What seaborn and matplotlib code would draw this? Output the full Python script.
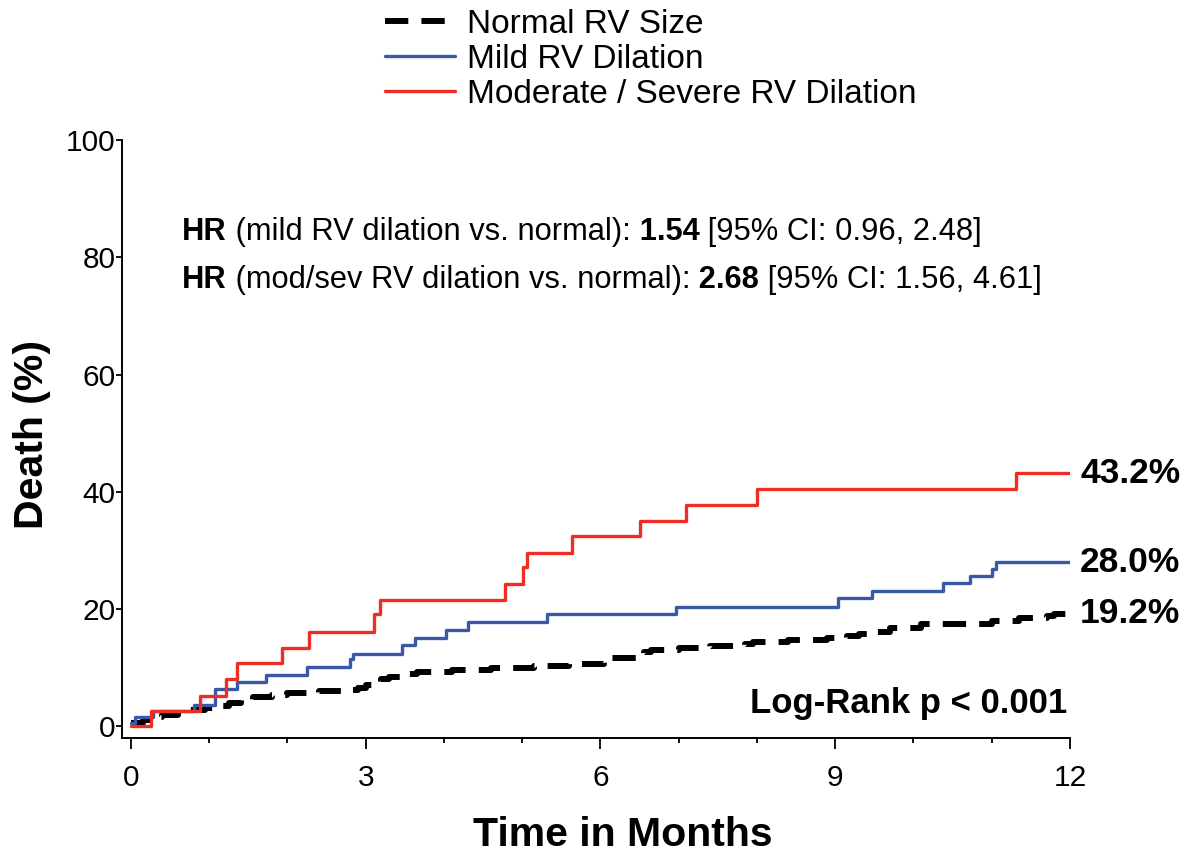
import numpy as np
import pandas as pd
import matplotlib
matplotlib.use("Agg")
import matplotlib.pyplot as plt
import seaborn as sns
from matplotlib.ticker import MultipleLocator

# ---------------- data ----------------
series_names = ["Normal RV Size", "Mild RV Dilation", "Moderate / Severe RV Dilation"]

normal_t = [0, 0.15, 0.3, 0.4, 0.6, 0.75, 0.95, 1.1, 1.25, 1.4, 1.56, 1.8, 2.0, 2.4, 2.7,
            2.9, 3.0, 3.1, 3.2, 3.3, 3.5, 3.65, 4.1, 4.6, 5.15, 5.6, 6.05, 6.15, 6.45, 6.55,
            6.65, 7.0, 7.4, 7.85, 7.95, 8.4, 8.9, 9.15, 9.3, 9.4, 9.7, 10.1, 11.0, 11.35,
            11.7, 11.8, 12.0]
normal_y = [0.5, 1.0, 1.5, 1.9, 2.3, 2.7, 3.1, 3.5, 3.9, 4.4, 5.0, 5.3, 5.6, 6.0, 6.2,
            6.6, 7.0, 7.5, 8.0, 8.4, 8.9, 9.3, 9.6, 9.9, 10.3, 10.7, 11.0, 11.6, 12.2, 12.6,
            13.0, 13.4, 13.7, 14.1, 14.4, 14.7, 15.0, 15.4, 15.8, 16.1, 16.7, 17.4, 18.0, 18.4,
            18.8, 19.2, 19.2]

mild_t = [0, 0.05, 0.28, 0.80, 1.07, 1.35, 1.73, 2.25, 2.80, 2.84, 3.46, 3.63, 4.03, 4.31,
          5.31, 6.97, 9.04, 9.47, 10.38, 10.72, 11.00, 11.06, 12.0]
mild_y = [0.5, 1.5, 2.6, 3.7, 6.3, 7.6, 8.8, 10.1, 11.5, 12.4, 13.8, 15.1, 16.4, 17.8,
          19.1, 20.3, 21.8, 23.0, 24.4, 25.6, 26.8, 28.0, 28.0]

modsev_t = [0, 0.26, 0.88, 1.22, 1.35, 1.93, 2.27, 3.10, 3.18, 4.78, 5.01, 5.06, 5.63,
            6.50, 7.09, 8.00, 11.31, 12.0]
modsev_y = [0, 2.6, 5.2, 8.1, 10.8, 13.4, 16.1, 19.1, 21.5, 24.2, 27.2, 29.6, 32.4,
            35.0, 37.8, 40.5, 43.2, 43.2]

end_labels = ["19.2%", "28.0%", "43.2%"]
x_ticks = [0, 3, 6, 9, 12]
y_ticks = [0, 20, 40, 60, 80, 100]
hr_lines = [
    [("HR", True), (" (mild RV dilation vs. normal):", False), (" 1.54", True),
     (" [95% CI: 0.96, 2.48]", False)],
    [("HR", True), (" (mod/sev RV dilation vs. normal):", False), (" 2.68", True),
     (" [95% CI: 1.56, 4.61]", False)],
]
pvalue_text = "Log-Rank p < 0.001"

# ---------------- styling ----------------
sns.set_theme(style="ticks")
plt.rcParams["font.family"] = ["Liberation Sans", "DejaVu Sans"]
plt.rcParams["text.color"] = "black"
plt.rcParams["axes.labelcolor"] = "black"
plt.rcParams["xtick.color"] = "black"
plt.rcParams["ytick.color"] = "black"

RED = "#EE2E24"
BLUE = "#3A58A8"
BLACK = "#000000"

df = pd.concat([
    pd.DataFrame({"t": normal_t, "y": normal_y, "group": series_names[0]}),
    pd.DataFrame({"t": mild_t, "y": mild_y, "group": series_names[1]}),
    pd.DataFrame({"t": modsev_t, "y": modsev_y, "group": series_names[2]}),
], ignore_index=True)

fig = plt.figure(figsize=(11.97, 8.61), dpi=100)
ax = fig.add_axes([122 / 1197, 1 - 738 / 861, (1070 - 122) / 1197, (738 - 140) / 861])

styles = {
    series_names[0]: dict(color=BLACK, lw=4.3, linestyle=(0, (3.9, 2.2))),
    series_names[1]: dict(color=BLUE, lw=2.4, linestyle="-"),
    series_names[2]: dict(color=RED, lw=2.4, linestyle="-"),
}
for name in series_names:
    sub = df[df["group"] == name]
    sns.lineplot(data=sub, x="t", y="y", ax=ax, drawstyle="steps-post",
                 estimator=None, sort=False, label=name, **styles[name])

ax.set_xlim(-0.115, 12)
ax.set_ylim(-2, 100)
ax.set_xticks(x_ticks)
ax.set_yticks(y_ticks)
ax.xaxis.set_minor_locator(MultipleLocator(1))
for side in ["top", "right"]:
    ax.spines[side].set_visible(False)
for side in ["left", "bottom"]:
    ax.spines[side].set_linewidth(1.4)
    ax.spines[side].set_color("black")
ax.tick_params(axis="both", which="major", direction="out", width=1.3,
               colors="black", labelsize=21.5)
ax.tick_params(axis="x", which="major", length=8, pad=11)
ax.tick_params(axis="y", which="major", length=4, pad=0.5)
ax.tick_params(axis="x", which="minor", direction="out", length=3.6, width=1.3, colors="black")

ax.set_xlabel("Time in Months", fontsize=29.5, fontweight="bold")
ax.set_ylabel("Death (%)", fontsize=29.5, fontweight="bold")
ax.xaxis.set_label_coords(0.5285, -0.1304)
ax.yaxis.set_label_coords(-0.0745, 0.507)

# end labels
ends = [normal_y[-1], mild_y[-1], modsev_y[-1]]
for lab, yv in zip(end_labels, ends):
    ax.text(12.13, yv, lab, fontsize=25.5, fontweight="bold", va="center", ha="left",
            clip_on=False)

ax.text(11.97, 2.3, pvalue_text, fontsize=25, fontweight="bold", ha="right", va="baseline")

# HR rich text lines
def rich_line(x, y, parts, size):
    t = ax.text(x, y, parts[0][0], fontsize=size,
                fontweight="bold" if parts[0][1] else "normal", ha="left", va="baseline")
    for s, b in parts[1:]:
        t = ax.annotate(s, xy=(1, 0), xycoords=t, fontsize=size,
                        fontweight="bold" if b else "normal", ha="left", va="bottom")

rich_line(0.652, 82.9, hr_lines[0], 22.2)
rich_line(0.652, 74.7, hr_lines[1], 22.2)

# legend
ax.get_legend().remove()
handles, labels = ax.get_legend_handles_labels()
fig.legend(handles, labels, loc="upper left", bbox_to_anchor=(385 / 1197, 1 - 9 / 861),
           frameon=False, fontsize=24, handlelength=2.1, handletextpad=0.35,
           labelspacing=0.12, borderpad=0, borderaxespad=0)

fig.savefig("out.png", dpi=100)
